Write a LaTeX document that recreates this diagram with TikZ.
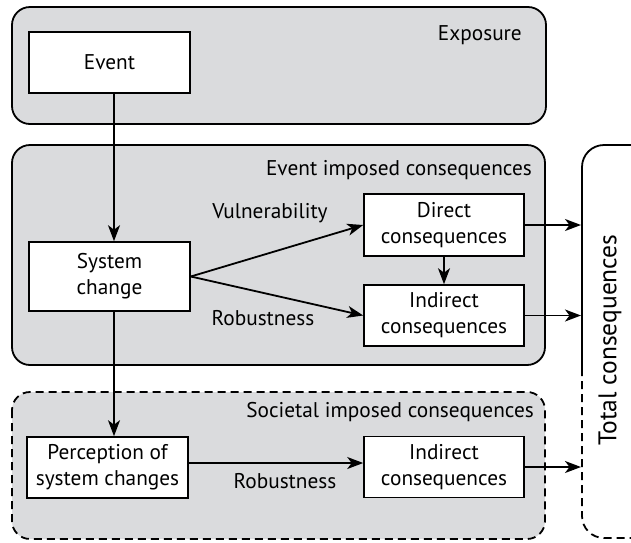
\documentclass[tikz,border=0pt]{standalone}
\usepackage{fontspec}
\setmainfont{PT Sans}
\usetikzlibrary{arrows.meta}
\definecolor{panel}{RGB}{218,219,221}
\begin{document}
\begin{tikzpicture}[x=1pt,y=-1pt,
  panelbox/.style={draw=black, line width=1.8pt, fill=panel, rounded corners=18pt},
  stepbox/.style={draw=black, line width=1.6pt, fill=white, inner sep=0pt, align=center,
    minimum width=161pt, minimum height=61pt, font=\fontsize{21.3}{26}\selectfont},
  lbl/.style={font=\fontsize{21.3}{26}\selectfont, inner sep=0pt},
  arr/.style={line width=1.8pt, -{Stealth[length=16pt,width=12pt,inset=4.5pt]}},
  dsh/.style={dash pattern=on 8pt off 5pt}]
\useasboundingbox (0,0) rectangle (631,542);
\fill[white] (0,0) rectangle (631,542);
% panels
\draw[panelbox] (12,7) rectangle (546,124);
\draw[panelbox] (12,145) rectangle (545,365);
\draw[panelbox, dsh] (12,392) rectangle (545,539);
\node[lbl, anchor=base east] (lexp) at (522,40) {Exposure};
\node[lbl, anchor=base east] (leic) at (532,175) {Event imposed consequences};
\node[lbl, anchor=base east] (lsic) at (534,417) {Societal imposed consequences};
% boxes
\node[stepbox] (ev) at (109.5,62.5) {Event};
\node[stepbox, minimum height=69pt] (sys) at (109.5,276.5) {System\\change};
\node[stepbox, minimum width=160pt, minimum height=62pt] (d) at (444,225) {Direct\\consequences};
\node[stepbox, minimum width=160pt] (ind) at (444,315.5) {Indirect\\consequences};
\node[stepbox] (per) at (107.5,467.5) {Perception of\\system changes};
\node[stepbox, minimum width=160pt] (ind2) at (444,467) {Indirect\\consequences};
% total consequences shape
\begin{scope}
\clip (0,0) rectangle (631,542);
\draw[line width=1.8pt, rounded corners=22pt] (582,368) -- (582,145) -- (660,145);
\draw[line width=1.8pt, dsh, rounded corners=22pt] (582,368) -- (582,538) -- (660,538);
\end{scope}
\node[font=\fontsize{25.5}{30}\selectfont, rotate=90, inner sep=0pt] (tot) at (610,340) {Total consequences};
\coordinate (vx) at (114,0);
\coordinate (tl) at (581,0);
% connectors
\draw[arr] (ev.south -| vx) -- (sys.north -| vx);
\draw[arr] (sys.south -| vx) -- (per.north -| vx);
\draw[arr] (sys.east) -- (d.west);
\draw[arr] (sys.east) -- (ind.west);
\draw[arr] (d.south) -- (ind.north);
\draw[arr] ([yshift=4.5pt]per.east) -- ([yshift=4.5pt]per.east -| ind2.west);
\draw[arr] (d.east) -- (d.east -| tl);
\draw[arr] (ind.east) -- (ind.east -| tl);
\draw[arr] (ind2.east) -- (ind2.east -| tl);
% labels
\node[lbl] (lv) at (270,213) {Vulnerability};
\node[lbl] (lr1) at (263,318) {Robustness};
\node[lbl] (lr2) at (285,481) {Robustness};
\end{tikzpicture}
\end{document}
